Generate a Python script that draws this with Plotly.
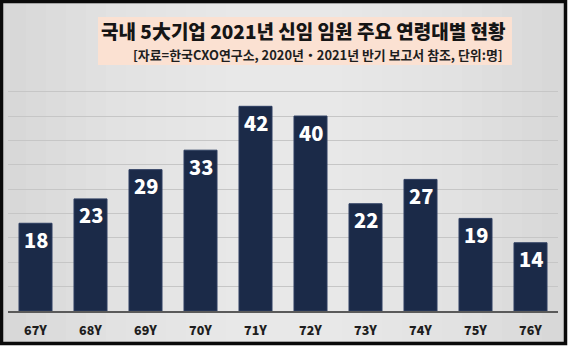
import plotly.graph_objects as go

# Data: newly appointed executives at the top-5 groups, by birth year (2021)
categories = ["67Y", "68Y", "69Y", "70Y", "71Y", "72Y", "73Y", "74Y", "75Y", "76Y"]
counts = [18, 23, 29, 33, 42, 40, 22, 27, 19, 14]

title_text = "국내 5大기업 2021년 신임 임원 주요 연령대별 현황"
source_text = "[자료=한국CXO연구소, 2020년・2021년 반기 보고서 참조, 단위:명]"

W, H = 569, 349
M_L, M_R, M_T, M_B = 8, 11, 80, 38
PW, PH = W - M_L - M_R, H - M_T - M_B
Y_MAX = 47.4

FONT = "Noto Sans CJK KR"
NAVY = "#1b2a48"


def fx(px):
    """Pixel x -> paper x (paper spans the plot area)."""
    return (px - M_L) / PW


def fy(py):
    """Pixel y (from top) -> paper y."""
    return (H - M_B - py) / PH


fig = go.Figure()

fig.add_trace(go.Bar(
    x=categories,
    y=counts,
    width=0.6,
    marker=dict(color=NAVY, line=dict(color="#2c3d60", width=1)),
    hoverinfo="skip",
))

shapes = []
# Framed card with a soft horizontal gradient
shapes.append(dict(type="rect", xref="paper", yref="paper", layer="below",
                   x0=fx(1.5), x1=fx(565.5), y0=fy(343.5), y1=fy(1.5),
                   fillcolor="#d6d6d6", line=dict(color="#0a0a0a", width=3.5)))
n_bands = 12
for i in range(n_bands):
    half = 278 - i * 20
    shapes.append(dict(type="rect", xref="paper", yref="paper", layer="below",
                       x0=fx(284 - half), x1=fx(284 + half),
                       y0=fy(341), y1=fy(4),
                       fillcolor="rgba(255,255,255,0.065)", line=dict(width=0)))
# Peach title panel
shapes.append(dict(type="rect", xref="paper", yref="paper", layer="below",
                   x0=fx(98), x1=fx(512), y0=fy(65), y1=fy(17),
                   fillcolor="#fbe1d2", line=dict(width=0)))

annotations = [
    dict(text=title_text, xref="paper", yref="paper",
         x=fx(508), y=fy(31), xanchor="right", yanchor="middle", showarrow=False,
         font=dict(family=FONT, size=19, color="#151515", weight=900)),
    dict(text=source_text, xref="paper", yref="paper",
         x=fx(505), y=fy(54), xanchor="right", yanchor="middle", showarrow=False,
         font=dict(family=FONT, size=12.9, color="#1e1e1e", weight=700)),
]
# Value labels inside the top of each bar
for cat, v in zip(categories, counts):
    annotations.append(dict(
        text=str(v), x=cat, y=v, xref="x", yref="y",
        xanchor="center", yanchor="middle", yshift=-16, showarrow=False,
        font=dict(family=FONT, size=20, color="white", weight=900),
    ))

fig.update_layout(
    width=W, height=H,
    margin=dict(l=M_L, r=M_R, t=M_T, b=M_B, pad=0),
    paper_bgcolor="white",
    plot_bgcolor="rgba(0,0,0,0)",
    showlegend=False,
    bargap=0.4,
    shapes=shapes,
    annotations=annotations,
    xaxis=dict(
        showgrid=False, showline=True, linecolor="#5a5a5a", linewidth=1.5,
        ticks="", ticklabelstandoff=7, fixedrange=True,
        tickfont=dict(family=FONT, size=12.5, color="#1e1e1e", weight=900),
    ),
    yaxis=dict(
        range=[0, Y_MAX], dtick=5, showgrid=True, gridcolor="#c6c6c6", gridwidth=1,
        showticklabels=False, zeroline=False, showline=False, fixedrange=True,
    ),
)

fig.write_html("out.html")
